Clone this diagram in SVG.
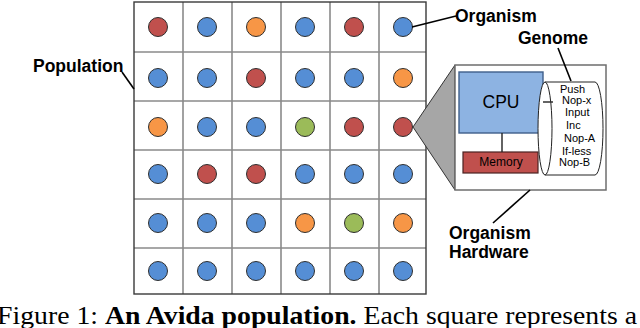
<svg xmlns="http://www.w3.org/2000/svg" width="640" height="328" viewBox="0 0 640 328">
<style>
.grid{stroke:#8a8a8a;stroke-width:1.6;fill:none}
.border{stroke:#3a3a3a;stroke-width:1.4;fill:none}
.org{stroke:#2e2e2e;stroke-width:1}
.r{fill:#c0504d}.b{fill:#558ed5}.o{fill:#f79646}.g{fill:#9bbb59}
.lbl{font-family:"Liberation Sans",Arial,sans-serif;font-weight:bold;font-size:17.5px;fill:#000}
.conn{stroke:#000;stroke-width:1.6;fill:none}
.gen{font-family:"Liberation Sans",Arial,sans-serif;font-size:11px;fill:#000}
</style>
<rect width="640" height="328" fill="#fff"/>
<g id="population">
<path class="grid" d="M183,2V294M232,2V294M281,2V294M330,2V294M379,2V294M134,52H426M134,101H426M134,150H426M134,199H426M134,248H426"/>
<rect class="border" x="134" y="2" width="292" height="292"/>
<g class="org">
<circle class="r" cx="158" cy="27" r="9.5"/><circle class="b" cx="207" cy="27" r="9.5"/><circle class="o" cx="256" cy="27" r="9.5"/><circle class="b" cx="305" cy="27" r="9.5"/><circle class="r" cx="354" cy="27" r="9.5"/><circle class="b" cx="403" cy="27" r="9.5"/>
<circle class="b" cx="158" cy="78" r="9.5"/><circle class="b" cx="207" cy="78" r="9.5"/><circle class="r" cx="256" cy="78" r="9.5"/><circle class="b" cx="305" cy="78" r="9.5"/><circle class="b" cx="354" cy="78" r="9.5"/><circle class="o" cx="403" cy="78" r="9.5"/>
<circle class="o" cx="158" cy="127" r="9.5"/><circle class="b" cx="207" cy="127" r="9.5"/><circle class="b" cx="256" cy="127" r="9.5"/><circle class="g" cx="305" cy="127" r="9.5"/><circle class="r" cx="354" cy="127" r="9.5"/><circle class="r" cx="403" cy="127" r="9.5"/>
<circle class="b" cx="158" cy="174" r="9.5"/><circle class="r" cx="207" cy="174" r="9.5"/><circle class="r" cx="256" cy="174" r="9.5"/><circle class="b" cx="305" cy="174" r="9.5"/><circle class="b" cx="354" cy="174" r="9.5"/><circle class="b" cx="403" cy="174" r="9.5"/>
<circle class="b" cx="158" cy="223" r="9.5"/><circle class="b" cx="207" cy="223" r="9.5"/><circle class="b" cx="256" cy="223" r="9.5"/><circle class="o" cx="305" cy="223" r="9.5"/><circle class="g" cx="354" cy="223" r="9.5"/><circle class="o" cx="403" cy="223" r="9.5"/>
<circle class="b" cx="158" cy="271" r="9.5"/><circle class="b" cx="207" cy="271" r="9.5"/><circle class="b" cx="256" cy="271" r="9.5"/><circle class="b" cx="305" cy="271" r="9.5"/><circle class="b" cx="354" cy="271" r="9.5"/><circle class="b" cx="403" cy="271" r="9.5"/>
</g>
</g>
<g id="zoom">
<polygon points="413,127 455,65 455,190" fill="#a6a6a6" stroke="#333" stroke-width="1"/>
</g>
<g id="hardware">
<rect x="455" y="65" width="151" height="125" fill="#fff" stroke="#6e6e6e" stroke-width="1.5"/>
</g>
<g id="cpu">
<rect x="459" y="72" width="84" height="61" fill="#8db3e2" stroke="#3f5f8a" stroke-width="1.4"/>
<text x="501" y="108" text-anchor="middle" font-family="'Liberation Sans',Arial,sans-serif" font-size="17.5">CPU</text>
</g>
<g id="memory">
<rect x="463" y="152" width="75" height="21" fill="#c0504d" stroke="#4a2222" stroke-width="1.2"/>
<text x="501" y="166" text-anchor="middle" font-family="'Liberation Sans',Arial,sans-serif" font-size="12">Memory</text>
</g>
<g id="genome">
<path d="M545,82 H595 A8,46.5 0 0 1 595,175 H545 Z" fill="#fff" stroke="#222" stroke-width="1"/>
<ellipse cx="545" cy="128.5" rx="7" ry="46.5" fill="#fff" stroke="#222" stroke-width="1"/>
<text class="gen" x="560" y="93">Push</text>
<text class="gen" x="562" y="104">Nop-x</text>
<text class="gen" x="565" y="116">Input</text>
<text class="gen" x="566" y="129">Inc</text>
<text class="gen" x="564" y="142">Nop-A</text>
<text class="gen" x="562" y="155">If-less</text>
<text class="gen" x="559" y="166">Nop-B</text>
</g>
<g id="connectors">
<line class="conn" x1="412" y1="27" x2="456" y2="16"/>
<line class="conn" x1="122" y1="72" x2="134" y2="89"/>
<line class="conn" x1="558" y1="48" x2="571" y2="81"/>
<line class="conn" x1="530" y1="190" x2="493" y2="223"/>
<line stroke="#222" stroke-width="1.4" x1="502" y1="133" x2="502" y2="152"/>
<line stroke="#222" stroke-width="1.4" x1="543" y1="102" x2="553" y2="102"/>
</g>
<g id="labels">
<text class="lbl" x="33" y="72">Population</text>
<text class="lbl" x="455" y="22">Organism</text>
<text class="lbl" x="518" y="44">Genome</text>
<text class="lbl" x="449" y="239">Organism</text>
<text class="lbl" x="449" y="258">Hardware</text>
</g>
<text x="-3" y="324" textLength="640" lengthAdjust="spacingAndGlyphs" font-family="'Liberation Serif','Times New Roman',serif" font-size="25.5" fill="#000">Figure 1: <tspan font-weight="bold">An Avida population.</tspan> Each square represents a</text>
</svg>
